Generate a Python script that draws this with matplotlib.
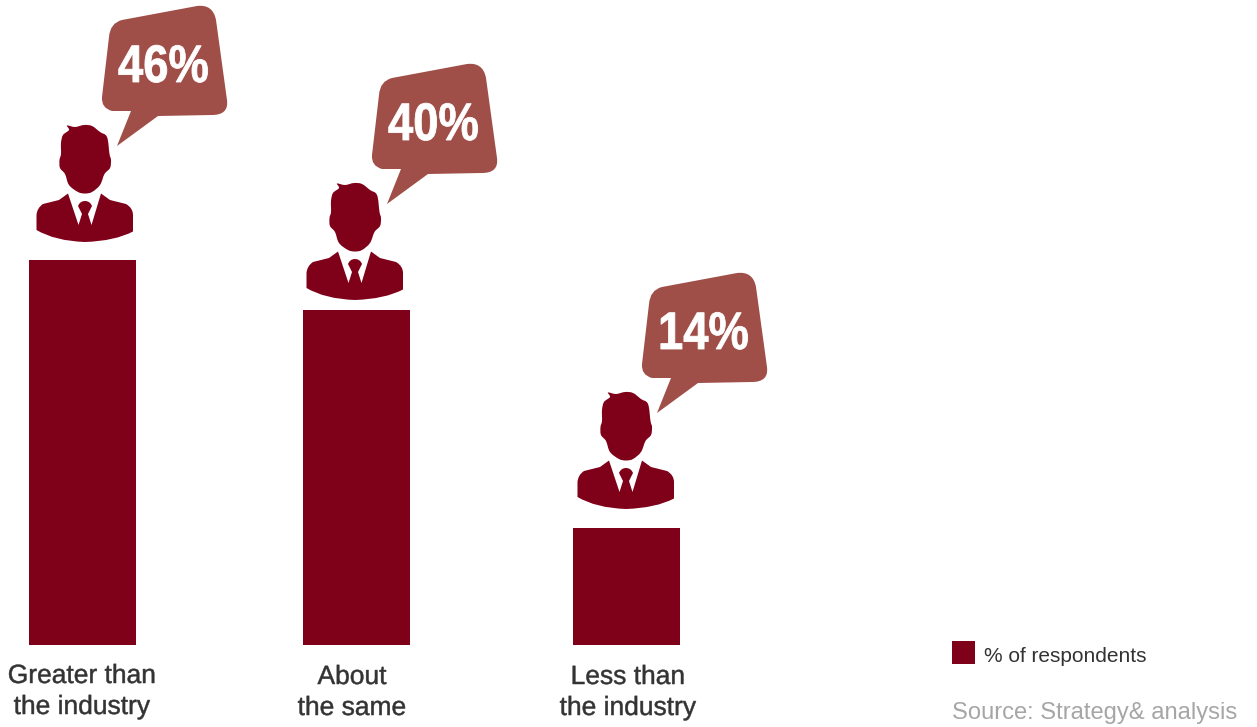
import matplotlib
matplotlib.use("Agg")
import matplotlib.pyplot as plt
import matplotlib.patheffects as pe
from matplotlib.path import Path
from matplotlib.patches import PathPatch, Rectangle
from matplotlib.transforms import Affine2D

categories = ["Greater than\nthe industry", "About\nthe same", "Less than\nthe industry"]
respondents = [46, 40, 14]
legend_label = "% of respondents"
source_note = "Source: Strategy& analysis"

W, H = 1257, 727
BAR_COLOR = "#7f0019"
BUBBLE_COLOR = "#a04e48"
BASE_Y = 645
PX_PER_PERCENT = 8.374
bar_centres = [82.5, 356.5, 626.5]
label_centres = [82, 352, 628]
icon_offsets = [(0, 0), (270, 58), (541, 267)]
bubble_offsets = [(0, 0), (270, 58), (540, 267)]

plt.rcParams["font.family"] = ["Liberation Sans", "DejaVu Sans"]
fig = plt.figure(figsize=(W / 100, H / 100), dpi=100, facecolor="white")

# Bars live on a value axis whose zero sits on the common baseline.
ax = fig.add_axes([0, (H - BASE_Y) / H, 1, BASE_Y / H])
ax.set_xlim(0, W)
ax.set_ylim(0, BASE_Y / PX_PER_PERCENT)
ax.axis("off")
ax.bar(bar_centres, respondents, width=107, color=BAR_COLOR, linewidth=0)

# Pixel-space overlay for the pictograms and captions.
ov = fig.add_axes([0, 0, 1, 1])
ov.set_xlim(0, W)
ov.set_ylim(H, 0)
ov.axis("off")
ov.patch.set_alpha(0)


class Condensed(pe.AbstractPathEffect):
    """Squeeze glyph outlines horizontally, with a thin stroke for extra weight."""

    def __init__(self, factor, stroke=0.0):
        super().__init__()
        self.factor = factor
        self.stroke = stroke

    def draw_path(self, renderer, gc, tpath, affine, rgbFace=None):
        gc0 = renderer.new_gc()
        gc0.copy_properties(gc)
        gc0.set_linewidth(self.stroke)
        gc0.set_foreground(rgbFace)
        renderer.draw_path(gc0, tpath, Affine2D().scale(self.factor, 1) + affine, rgbFace)
        gc0.restore()


def smooth_closed(points, tension=0.17):
    """Closed Catmull-Rom style Bezier path through the given points."""
    n = len(points)
    verts = [points[0]]
    codes = [Path.MOVETO]
    for i in range(n):
        p0, p1, p2, p3 = points[i - 1], points[i], points[(i + 1) % n], points[(i + 2) % n]
        c1 = (p1[0] + (p2[0] - p0[0]) * tension, p1[1] + (p2[1] - p0[1]) * tension)
        c2 = (p2[0] - (p3[0] - p1[0]) * tension, p2[1] - (p3[1] - p1[1]) * tension)
        verts += [c1, c2, p2]
        codes += [Path.CURVE4] * 3
    return Path(verts, codes)


def corner_path(segments):
    """Path from steps: two numbers draw a line, four numbers a quadratic curve."""
    verts, codes = [segments[0]], [Path.MOVETO]
    for step in segments[1:]:
        if len(step) == 2:
            verts.append(step)
            codes.append(Path.LINETO)
        else:
            verts += [(step[0], step[1]), (step[2], step[3])]
            codes += [Path.CURVE3] * 2
    verts.append(verts[0])
    codes.append(Path.CLOSEPOLY)
    return Path(verts, codes)


def shifted(path, dx, dy):
    return Path(path.vertices + (dx, dy), path.codes)


HEAD = smooth_closed([
    (67, 125.5), (75, 127), (84, 125), (92, 126), (100, 132), (107, 137),
    (109.5, 154), (111, 160), (110, 168), (104.5, 174), (100, 185), (92, 192),
    (85, 193.5), (78, 192), (69, 185), (65, 174), (60, 168), (59.5, 160),
    (61, 154), (61, 143), (63, 135), (69, 130),
])

BODY = corner_path([
    (68, 193.5), (59, 200), (43, 204),
    (37, 208, 36.5, 215), (36.5, 230),
    (55, 241, 85, 242), (115, 241, 133, 231.5),
    (133, 215), (133, 208, 126, 204), (110, 200), (101, 193.5),
    (91.5, 225), (88, 214), (92, 206),
    (90, 201, 85, 201), (80, 201, 78, 206),
    (82, 214), (78.5, 225),
])

BUBBLE = corner_path([
    (109, 37), (110, 23, 122, 20),
    (197, 6), (213, 4, 216, 20),
    (227, 100), (229, 115, 212, 115),
    (158, 116), (117, 146), (131, 111),
    (112, 111), (101, 108, 102, 97),
])

value_labels = [f"{v}%" for v in respondents]
for i, value_text in enumerate(value_labels):
    ix, iy = icon_offsets[i]
    bx, by = bubble_offsets[i]
    ov.add_patch(PathPatch(shifted(BUBBLE, bx, by), fc=BUBBLE_COLOR, ec="none"))
    ov.add_patch(PathPatch(shifted(HEAD, ix, iy), fc=BAR_COLOR, ec="none"))
    ov.add_patch(PathPatch(shifted(BODY, ix, iy), fc=BAR_COLOR, ec="none"))
    ov.text(118 + bx, 68 + by, value_text, color="white", fontsize=38, fontweight="bold",
            ha="left", va="center", path_effects=[Condensed(0.86, 0.6)])

for cx, label in zip(label_centres, categories):
    first, second = label.split("\n")
    top = 676 if cx == 82 else 677
    for offset, line in enumerate((first, second)):
        ov.text(cx, top + offset * 31, line, color="#333333", fontsize=19, ha="center",
                va="center", path_effects=[Condensed(1.0, 0.35)])

ov.add_patch(Rectangle((952, 641), 23, 23, fc=BAR_COLOR, ec="none"))
ov.text(984, 656, legend_label, color="#333333", fontsize=15, ha="left", va="center")
ov.text(952, 713, source_note, color="#a6a6a6", fontsize=17.1, ha="left", va="center")

fig.savefig("out.png", dpi=100)
